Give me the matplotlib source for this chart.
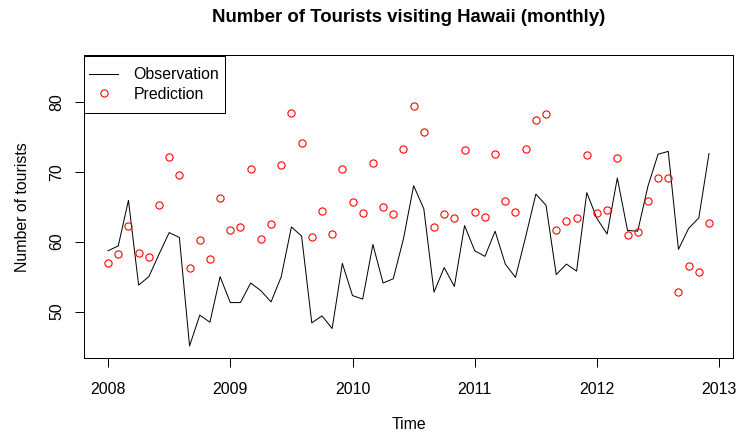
import numpy as np
import matplotlib
matplotlib.use("Agg")
import matplotlib.pyplot as plt
from matplotlib.lines import Line2D

# Monthly series, January 2008 to December 2012
start_year = 2008
observation = [
    58.7, 59.4, 65.9, 53.8, 55.0, 58.2, 61.3, 60.6, 45.1, 49.5, 48.5, 55.0,
    51.3, 51.3, 54.1, 53.0, 51.4, 55.0, 62.1, 60.8, 48.4, 49.4, 47.6, 56.9,
    52.3, 51.8, 59.6, 54.1, 54.7, 60.4, 68.0, 64.7, 52.8, 56.3, 53.6, 62.3,
    58.7, 57.9, 61.5, 56.8, 54.9, 60.7, 66.8, 65.2, 55.3, 56.8, 55.8, 67.0,
    63.3, 61.1, 69.1, 61.6, 61.5, 67.9, 72.5, 72.9, 58.9, 61.9, 63.4, 72.6,
]
prediction = [
    57.0, 58.2, 62.2, 58.4, 57.8, 65.2, 72.1, 69.5, 56.3, 60.3, 57.5, 66.3,
    61.6, 62.1, 70.4, 60.4, 62.5, 70.9, 78.4, 74.1, 60.7, 64.4, 61.1, 70.4,
    65.6, 64.1, 71.2, 64.9, 64.0, 73.3, 79.4, 75.6, 62.1, 64.0, 63.4, 73.1,
    64.2, 63.5, 72.5, 65.8, 64.3, 73.2, 77.4, 78.2, 61.7, 62.9, 63.4, 72.4,
    64.1, 64.5, 72.0, 60.9, 61.4, 65.8, 69.1, 69.1, 52.8, 56.5, 55.7, 62.6,
]
year_ticks = [2008, 2009, 2010, 2011, 2012, 2013]
count_ticks = [50, 60, 70, 80]

time = start_year + np.arange(len(observation)) / 12.0

plt.rcParams["font.family"] = ["Liberation Sans", "DejaVu Sans"]
px = 0.72  # one pixel in points at 100 dpi
base = 11.4

fig = plt.figure(figsize=(7.4, 4.32), dpi=100)
ax_h = 358.3 - 55
ax = fig.add_axes([84 / 740, 1 - 358.3 / 432, (733 - 84) / 740, ax_h / 432])

ax.plot(time, observation, color="black", lw=1.0 * px)
ax.plot(time, prediction, linestyle="none", marker="o", markersize=7.2 * px,
        markerfacecolor="none", markeredgecolor="red", markeredgewidth=1.1 * px)

ax.set_xlim(2007.803, 2013.113)
ax.set_ylim(43.34, 86.67)
ax.set_xticks(year_ticks)
ax.set_xticklabels([str(y) for y in year_ticks])
ax.set_yticks(count_ticks)
ax.set_yticklabels([str(c) for c in count_ticks], rotation=90, va="center")

for s in ax.spines.values():
    s.set_linewidth(1.0 * px)
    s.set_color("black")
ax.tick_params(axis="both", direction="out", length=9 * px, width=1.0 * px,
               colors="black", labelsize=base)
ax.tick_params(axis="x", pad=15 * px)
ax.tick_params(axis="y", pad=11 * px)

ax.set_title("Number of Tourists visiting Hawaii (monthly)", fontsize=13.4,
             fontweight="bold", pad=23.4)
ax.set_xlabel("Time", fontsize=base, labelpad=14.3)
ax.set_ylabel("Number of tourists", fontsize=base, labelpad=14)

handles = [
    Line2D([], [], color="black", lw=1.0 * px),
    Line2D([], [], linestyle="none", marker="o", markersize=7.2 * px,
           markerfacecolor="none", markeredgecolor="red", markeredgewidth=1.1 * px),
]
fs_px = base / 0.72
extra_v = 6.0  # extra vertical room inside the legend frame, pixels
leg = ax.legend(handles, ["Observation", "Prediction"], loc="upper left",
                bbox_to_anchor=(0, 1 - (extra_v + 1.2) / ax_h), borderaxespad=0,
                fancybox=False, framealpha=1, edgecolor="black", fontsize=base,
                handlelength=29 / fs_px, handletextpad=15.5 / fs_px,
                labelspacing=0.27, borderpad=5.2 / fs_px)
frame = leg.get_frame()
frame.set_linewidth(1.0 * px)
frame.set_boxstyle("square", pad=0.02)
frame.set_mutation_aspect(extra_v / (0.02 * fs_px))

fig.savefig("out.png", dpi=100)
